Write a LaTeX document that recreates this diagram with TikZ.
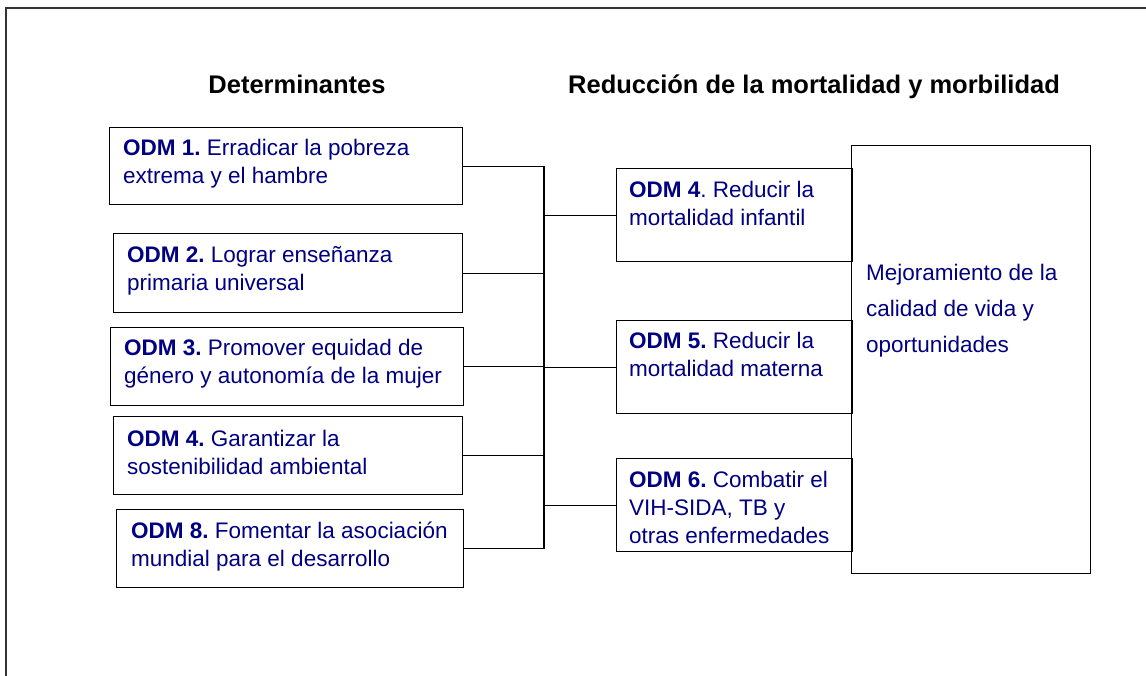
\documentclass[tikz,border=0pt]{standalone}
\usepackage{fontspec}
\setmainfont{Liberation Sans}
\definecolor{navy}{RGB}{0,0,128}
\frenchspacing
\begin{document}
\begin{tikzpicture}[x=1pt,y=1pt,
  box/.style={draw=black, line width=1.4pt, inner sep=0pt, anchor=north west},
  txt/.style={inner sep=0pt, anchor=base west, text=navy, font=\fontsize{22.5}{28}\selectfont},
  bigtxt/.style={inner sep=0pt, anchor=base west, text=navy, font=\fontsize{22.5}{36}\selectfont},
  head/.style={inner sep=0pt, anchor=base, font=\fontsize{25.5}{30}\selectfont\bfseries},
  conn/.style={draw=black, line width=1.3pt}]
\useasboundingbox (0,0) rectangle (1146,-675);
% outer frame (top and left visible)
\coordinate (fbl) at (6,-676);
\coordinate (ftl) at (6,-8);
\coordinate (ftr) at (1147,-8);
\draw[line width=1.5pt, draw=black!80] (fbl) -- (ftl) -- (ftr);
% headers
\node[head] (h1) at (297,-93) {Determinantes};
\node[head, anchor=base west] (h2) at (568,-93) {Reducción de la mortalidad y morbilidad};
% left boxes
\node[box, minimum width=353pt, minimum height=77pt] (d1) at (109,-127) {};
\node[txt] (t1) at (123,-155) {\parbox[t]{330pt}{\frenchspacing\textbf{ODM 1.} Erradicar la pobreza\\extrema y el hambre}};
\node[box, minimum width=349pt, minimum height=79pt] (d2) at (113,-233) {};
\node[txt] (t2) at (127,-262) {\parbox[t]{330pt}{\frenchspacing\textbf{ODM 2.} Lograr enseñanza\\primaria universal}};
\node[box, minimum width=353pt, minimum height=78pt] (d3) at (110,-327) {};
\node[txt] (t3) at (124,-355) {\parbox[t]{340pt}{\frenchspacing\textbf{ODM 3.} Promover equidad de\\género y autonomía de la mujer}};
\node[box, minimum width=349pt, minimum height=78pt] (d4) at (113,-416) {};
\node[txt] (t4) at (127,-446) {\parbox[t]{330pt}{\frenchspacing\textbf{ODM 4.} Garantizar la\\sostenibilidad ambiental}};
\node[box, minimum width=347pt, minimum height=78pt] (d8) at (116,-509) {};
\node[txt] (t8) at (131,-538) {\parbox[t]{330pt}{\frenchspacing\textbf{ODM 8.} Fomentar la asociación\\mundial para el desarrollo}};
% right boxes
\node[box, minimum width=236pt, minimum height=93pt] (r4) at (616,-168) {};
\node[txt] (u4) at (629,-197) {\parbox[t]{220pt}{\frenchspacing\textbf{ODM 4}. Reducir la\\mortalidad infantil}};
\node[box, minimum width=236pt, minimum height=93pt] (r5) at (616,-320) {};
\node[txt] (u5) at (629,-348) {\parbox[t]{220pt}{\frenchspacing\textbf{ODM 5.} Reducir la\\mortalidad materna}};
\node[box, minimum width=236pt, minimum height=93pt] (r6) at (616,-458) {};
\node[txt] (u6) at (629,-487) {\parbox[t]{220pt}{\frenchspacing\textbf{ODM 6.} Combatir el\\VIH-SIDA, TB y\\otras enfermedades}};
% big box
\node[box, minimum width=239pt, minimum height=428pt] (big) at (851,-145) {};
\node[bigtxt] (bt) at (866,-280) {\parbox[t]{220pt}{Mejoramiento de la\\calidad de vida y\\oportunidades}};
% connectors
\coordinate (bus) at (544,0);
\draw[conn] (d1.east) -- (d1.east -| bus) -- (d8.east -| bus) -- (d8.east);
\draw[conn] (d2.east) -- (d2.east -| bus);
\draw[conn] (d3.east) -- (d3.east -| bus);
\draw[conn] (d4.east) -- (d4.east -| bus);
\draw[conn] (r4.west -| bus) -- (r4.west);
\draw[conn] (r5.west -| bus) -- (r5.west);
\draw[conn] (r6.west -| bus) -- (r6.west);
\end{tikzpicture}
\end{document}
